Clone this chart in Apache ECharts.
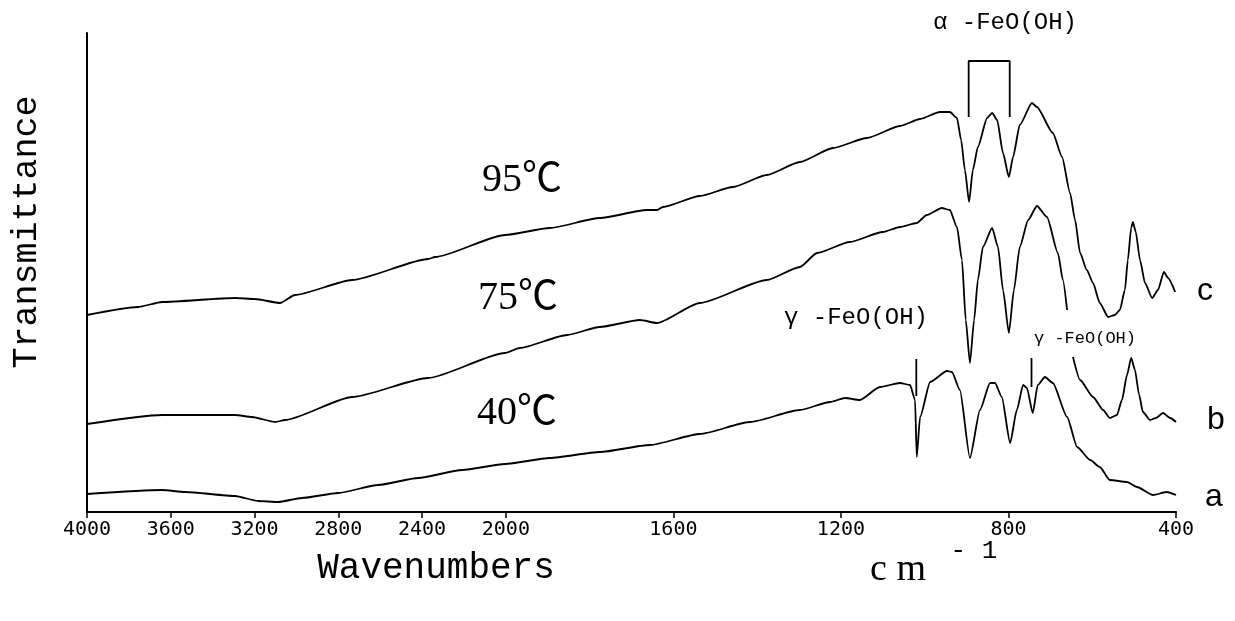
<!DOCTYPE html>
<html>
<head>
<meta charset="utf-8">
<script src="https://cdn.jsdelivr.net/npm/echarts@6/dist/echarts.min.js"></script>
<style>
  html, body { margin: 0; padding: 0; background: #fff; }
  #chart { width: 1235px; height: 621px; }
</style>
</head>
<body>
<div id="chart"></div>
<script>
// wavenumber (cm-1) tick labels; the axis is split at 2000, left half compressed 2x
const tickWn = [4000, 3600, 3200, 2800, 2400, 2000, 1600, 1200, 800, 400]

// spectra: [wavenumber, transmittance (arb. units)]
const curveC = [ // 95 C
    [4000, 197], [3756, 205], [3642, 210], [3293, 214], [3198, 213], [3078, 209], [3007, 217],
    [2734, 232], [2371, 253], [2338, 255], [2004, 277], [1895, 284], [1776, 294], [1663, 302],
    [1639, 302], [1625, 305], [1537, 316], [1458, 325], [1377, 337], [1298, 350], [1219, 364],
    [1138, 374], [1059, 386], [1011, 393], [964, 400], [940, 400], [923, 394], [913, 372],
    [904, 342], [894, 310], [885, 342], [873, 365], [851, 394], [839, 399], [827, 392],
    [813, 359], [799, 335], [789, 355], [773, 387], [744, 409], [732, 405], [694, 379],
    [672, 355], [653, 319], [641, 292], [629, 259], [613, 242], [598, 229], [582, 209],
    [562, 195], [546, 197], [534, 202], [522, 222], [515, 252], [507, 284], [503, 290],
    [496, 280], [486, 252], [474, 229], [457, 214], [443, 222], [429, 240], [419, 234], [402, 220]
]
const curveB = [ // 75 C
    [4000, 88], [3642, 97], [3293, 97], [3212, 95], [3102, 90], [3054, 92], [2734, 115],
    [2371, 134], [2004, 159], [1967, 164], [1854, 177], [1776, 185], [1680, 192], [1639, 189],
    [1537, 209], [1377, 232], [1298, 245], [1257, 259], [1179, 270], [1100, 280], [1059, 285],
    [1019, 289], [995, 297], [959, 304], [940, 302], [923, 285], [911, 252], [902, 192],
    [892, 149], [882, 192], [873, 232], [861, 265], [839, 284], [825, 265], [813, 222],
    [799, 179], [787, 222], [773, 265], [753, 292], [732, 306], [708, 295], [682, 259],
    [670, 232], [660, 202], [653, null],
    [646, 155], [629, 132], [598, 115], [574, 102], [558, 94], [541, 97], [529, 112],
    [517, 137], [507, 154], [498, 142], [488, 117], [479, 100], [462, 92], [448, 94],
    [431, 99], [414, 94], [400, 90]
]
const curveA = [ // 40 C
    [4000, 18], [3642, 22], [3532, 20], [3293, 16], [3183, 11], [3088, 10], [2973, 14],
    [2801, 19], [2610, 27], [2419, 34], [2209, 42], [2004, 48], [1895, 54], [1776, 60],
    [1656, 67], [1537, 78], [1417, 90], [1298, 102], [1226, 110], [1190, 114], [1155, 112],
    [1107, 125], [1059, 129], [1035, 127], [1023, 112], [1019, 55], [1011, 95], [987, 130],
    [947, 141], [935, 140], [916, 122], [892, 54], [868, 102], [844, 129], [832, 129],
    [816, 115], [796, 69], [780, 102], [765, 127], [756, 124], [742, 99], [730, 127],
    [713, 135], [694, 129], [660, 95], [636, 65], [605, 52], [582, 45], [558, 32],
    [517, 30], [493, 25], [455, 17], [422, 20], [400, 17]
]

// band markers
const alphaBands = [895, 797]        // bracket over alpha-FeO(OH)
const alphaLevels = [395, 451]
const gammaBands = [1020, 745]
const gammaLow = [116, 125]
const gammaHigh = [153, 154]

function toPos(w) { return w >= 2000 ? (4000 - w) / 2 : 1000 + (2000 - w) }
function fromPos(p) { return p <= 1000 ? 4000 - 2 * p : 2000 - (p - 1000) }

function mapCurve(arr) {
    return arr.map(function (d) { return [toPos(d[0]), d[1] === null ? '-' : d[1]] })
}

let chart = echarts.init(document.getElementById('chart'))

let lineBase = {
    type: 'line',
    showSymbol: false,
    symbol: 'none',
    smooth: 0.2,
    smoothMonotone: 'x',
    connectNulls: false,
    lineStyle: { color: '#000', width: 1.8 },
    silent: true
}

let alphaBracket = [
    [toPos(alphaBands[0]), alphaLevels[0]], [toPos(alphaBands[0]), alphaLevels[1]],
    [toPos(alphaBands[1]), alphaLevels[1]], [toPos(alphaBands[1]), alphaLevels[0]]
]

let series = [
    Object.assign({}, lineBase, { name: 'c', data: mapCurve(curveC) }),
    Object.assign({}, lineBase, { name: 'b', data: mapCurve(curveB) }),
    Object.assign({}, lineBase, { name: 'a', data: mapCurve(curveA) }),
    Object.assign({}, lineBase, { name: 'alpha', smooth: false, data: alphaBracket })
]
gammaBands.forEach(function (w, i) {
    series.push(Object.assign({}, lineBase, {
        name: 'gamma' + i, smooth: false,
        data: [[toPos(w), gammaLow[i]], [toPos(w), gammaHigh[i]]]
    }))
})

function txt(text, x, y, size, family, extra) {
    return Object.assign({
        type: 'text', x: x, y: y, silent: true,
        style: {
            text: text, fill: '#000', fontSize: size, fontFamily: family,
            align: 'center', verticalAlign: 'middle'
        }
    }, extra || {})
}

let mono = '"Liberation Mono", "DejaVu Sans Mono", monospace'
let serif = '"Liberation Serif", "Noto Sans CJK SC", serif'

let option = {
    animation: false,
    backgroundColor: '#fff',
    grid: { left: 87, right: 59, top: 33, bottom: 109 },
    xAxis: {
        type: 'value',
        min: 0,
        max: 2600,
        axisLine: { show: true, onZero: false, lineStyle: { color: '#000', width: 2 } },
        axisTick: {
            show: true, length: 6,
            customValues: tickWn.map(toPos),
            lineStyle: { color: '#000', width: 1.5 }
        },
        axisLabel: {
            customValues: tickWn.map(toPos),
            margin: 8,
            color: '#000',
            fontSize: 20,
            fontFamily: '"DejaVu Sans Mono", monospace',
            formatter: function (v) { return String(Math.round(fromPos(v))) }
        },
        splitLine: { show: false }
    },
    yAxis: {
        type: 'value',
        min: 0,
        max: 479,
        axisLine: { show: true, lineStyle: { color: '#000', width: 2 } },
        axisTick: { show: false },
        axisLabel: { show: false },
        splitLine: { show: false }
    },
    series: series,
    graphic: [
        txt('Transmittance', 27, 232, 35, mono, { rotation: Math.PI / 2 }),
        txt('Wavenumbers', 436, 568, 36, mono),
        txt('c m', 898, 570, 38, serif),
        txt('- 1', 974, 551, 26, mono),
        txt('95℃', 522, 180, 40, serif),
        txt('75℃', 518, 298, 40, serif),
        txt('40℃', 517, 413, 40, serif),
        txt('α -FeO(OH)', 1005, 23, 24, mono),
        txt('γ -FeO(OH)', 856, 318, 24, mono),
        txt('γ -FeO(OH)', 1085, 338, 17, mono),
        txt('c', 1205, 291, 32, '"Liberation Sans", sans-serif'),
        txt('b', 1216, 420, 32, '"Liberation Sans", sans-serif'),
        txt('a', 1214, 497, 32, '"Liberation Sans", sans-serif')
    ]
}

chart.setOption(option)
</script>
</body>
</html>
